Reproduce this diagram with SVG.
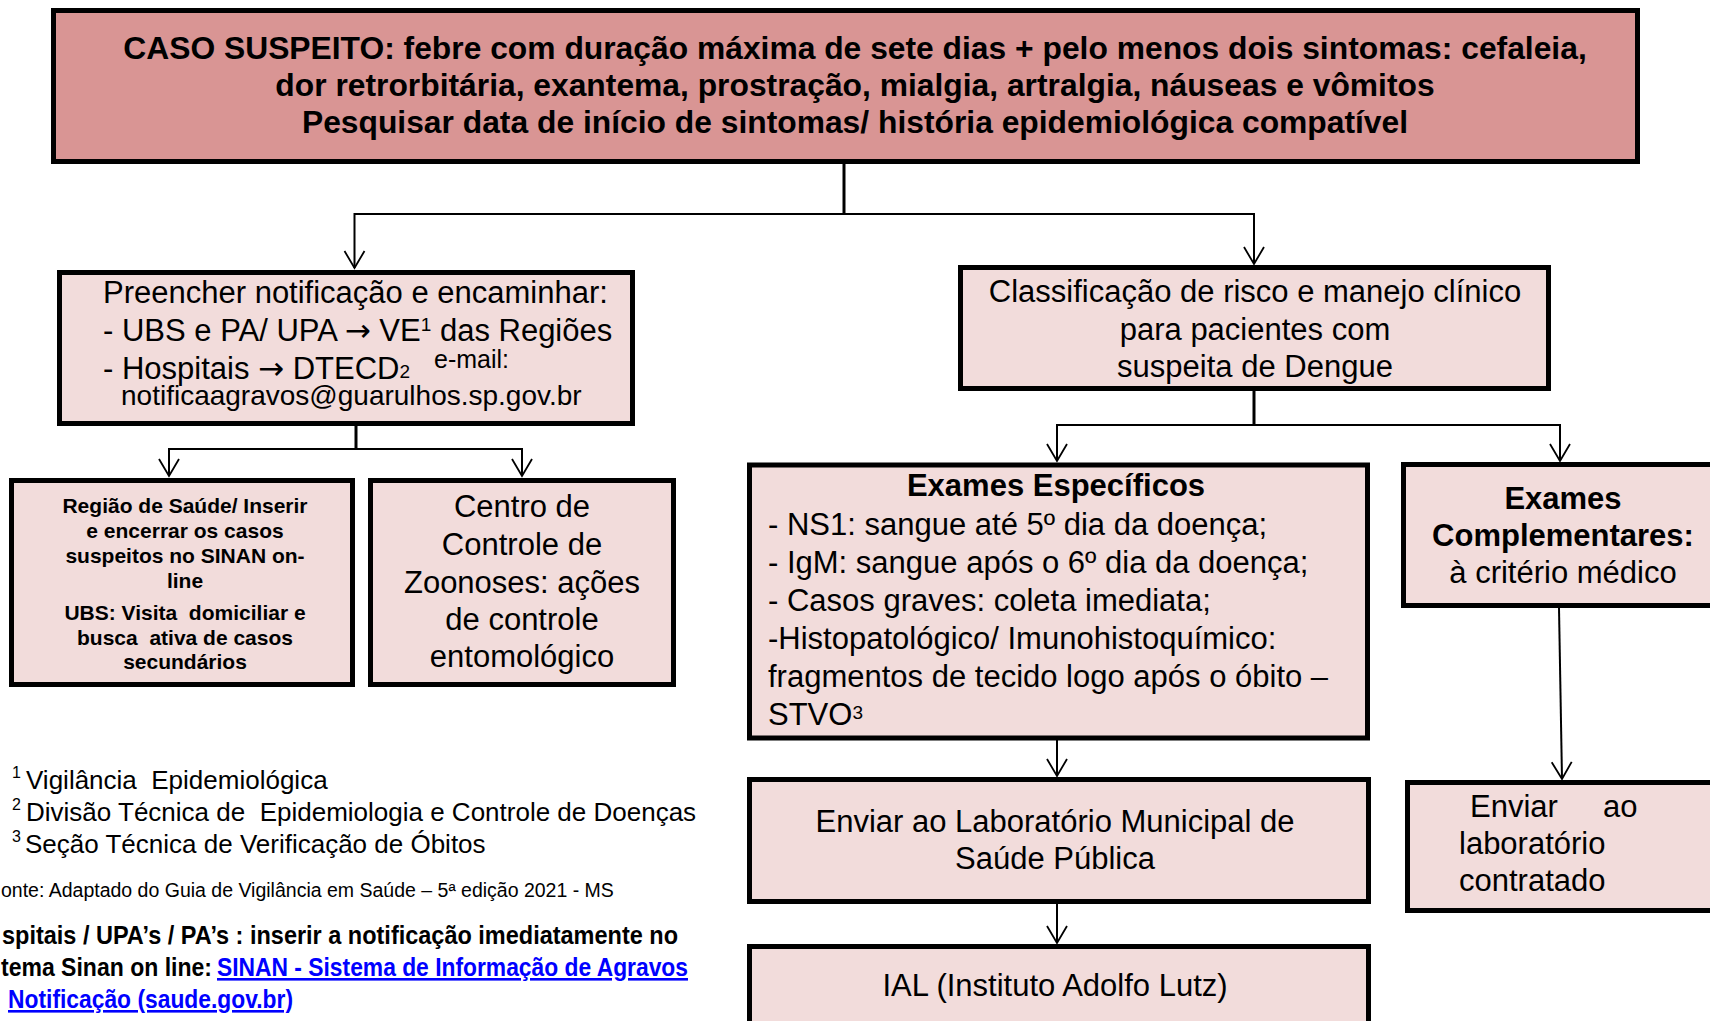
<svg xmlns="http://www.w3.org/2000/svg" width="1710" height="1021" viewBox="0 0 1710 1021">
<style>
text{font-family:"Liberation Sans",Arial,sans-serif;fill:#000}
.b{font-weight:bold}
.m{text-anchor:middle}
.pre{white-space:pre}
.ar{font-family:"DejaVu Sans","Liberation Sans",sans-serif}
.box{fill:#F2DCDB;stroke:#000;stroke-width:5}
.top{fill:#D99594;stroke:#000;stroke-width:5}
.c{fill:none;stroke:#000;stroke-width:2}
.t{fill:none;stroke:#000;stroke-width:3}
.f31{font-size:31px}
.cal{font-family:"Liberation Sans",Arial,sans-serif;font-weight:bold;font-size:26px}
.lnk{fill:#0000FF;text-decoration:underline}
</style>
<defs>
<marker id="arr" markerUnits="userSpaceOnUse" markerWidth="24" markerHeight="24" viewBox="-20 -12 24 24" refX="0" refY="0" orient="auto">
<path d="M-17,-10 L0,0 L-17,10" fill="none" stroke="#000" stroke-width="1.8"/>
</marker>
</defs>
<rect width="1710" height="1021" fill="#fff"/>

<g id="connectors">
<path class="t" d="M844,163 V214"/>
<path class="c" d="M844,214 H354.5 V268" marker-end="url(#arr)"/>
<path class="c" d="M844,214 H1254 V264" marker-end="url(#arr)"/>
<path class="t" d="M356,426 V449"/>
<path class="c" d="M356,449 H169 V476" marker-end="url(#arr)"/>
<path class="c" d="M356,449 H522 V476" marker-end="url(#arr)"/>
<path class="t" d="M1254,391 V425"/>
<path class="c" d="M1254,425 H1057 V461" marker-end="url(#arr)"/>
<path class="c" d="M1254,425 H1560 V461" marker-end="url(#arr)"/>
<path class="c" d="M1057,740 V776" marker-end="url(#arr)"/>
<path class="c" d="M1057,904 V943" marker-end="url(#arr)"/>
<path class="c" d="M1559,608 L1562,779" marker-end="url(#arr)"/>
</g>

<g id="caso-suspeito">
<rect class="top" x="53.5" y="10.5" width="1584" height="151"/>
<text class="b m" x="855" y="59" font-size="31.8">CASO SUSPEITO: febre com duração máxima de sete dias + pelo menos dois sintomas: cefaleia,</text>
<text class="b m" x="855" y="96" font-size="31.8">dor retrorbitária, exantema, prostração, mialgia, artralgia, náuseas e vômitos</text>
<text class="b m" x="855" y="133" font-size="31.8">Pesquisar data de início de sintomas/ história epidemiológica compatível</text>
</g>

<g id="preencher">
<rect class="box" x="59.5" y="272.5" width="573" height="151"/>
<text class="f31" x="103" y="303">Preencher notificação e encaminhar:</text>
<text class="f31" x="103" y="341">- UBS e PA/ UPA <tspan class="ar">→</tspan> VE<tspan font-size="19" dy="-10">1</tspan><tspan dy="10"> das Regiões</tspan></text>
<text class="f31" x="103" y="379">- Hospitais <tspan class="ar">→</tspan> DTECD<tspan font-size="19" dy="-1">2</tspan></text>
<text x="434" y="368" font-size="25">e-mail:</text>
<text x="121" y="405" font-size="28">notificaagravos@guarulhos.sp.gov.br</text>
</g>

<g id="regiao-saude">
<rect class="box" x="11.5" y="480.5" width="341" height="204"/>
<text class="b m" x="185" y="513" font-size="21">Região de Saúde/ Inserir</text>
<text class="b m" x="185" y="538" font-size="21">e encerrar os casos</text>
<text class="b m" x="185" y="563" font-size="21">suspeitos no SINAN on-</text>
<text class="b m" x="185" y="588" font-size="21">line</text>
<text class="b m pre" x="185" y="620" font-size="21">UBS: Visita  domiciliar e</text>
<text class="b m pre" x="185" y="645" font-size="21">busca  ativa de casos</text>
<text class="b m" x="185" y="669" font-size="21">secundários</text>
</g>

<g id="centro-zoonoses">
<rect class="box" x="370.5" y="480.5" width="303" height="204"/>
<text class="f31 m" x="522" y="517">Centro de</text>
<text class="f31 m" x="522" y="555">Controle de</text>
<text class="f31 m" x="522" y="593">Zoonoses: ações</text>
<text class="f31 m" x="522" y="630">de controle</text>
<text class="f31 m" x="522" y="667">entomológico</text>
</g>

<g id="classificacao">
<rect class="box" x="960.5" y="267.5" width="588" height="121"/>
<text class="f31 m" x="1255" y="302">Classificação de risco e manejo clínico</text>
<text class="f31 m" x="1255" y="340">para pacientes com</text>
<text class="f31 m" x="1255" y="377">suspeita de Dengue</text>
</g>

<g id="exames-especificos">
<rect class="box" x="749.5" y="465" width="618" height="273"/>
<text class="b m f31" x="1056" y="496">Exames Específicos</text>
<text class="f31" x="768" y="535">- NS1: sangue até 5º dia da doença;</text>
<text class="f31" x="768" y="573">- IgM: sangue após o 6º dia da doença;</text>
<text class="f31" x="768" y="611">- Casos graves: coleta imediata;</text>
<text class="f31" x="768" y="649">-Histopatológico/ Imunohistoquímico:</text>
<text class="f31" x="768" y="687">fragmentos de tecido logo após o óbito –</text>
<text class="f31" x="768" y="725">STVO<tspan font-size="19" dy="-6">3</tspan></text>
</g>

<g id="exames-complementares">
<rect class="box" x="1403.5" y="464.5" width="400" height="141"/>
<text class="b m f31" x="1563" y="509">Exames</text>
<text class="b m f31" x="1563" y="546">Complementares:</text>
<text class="f31 m" x="1563" y="583">à critério médico</text>
</g>

<g id="laboratorio-municipal">
<rect class="box" x="749.5" y="779.5" width="619" height="122"/>
<text class="f31 m" x="1055" y="832">Enviar ao Laboratório Municipal de</text>
<text class="f31 m" x="1055" y="869">Saúde Pública</text>
</g>

<g id="ial">
<rect class="box" x="749.5" y="946.5" width="619" height="100"/>
<text class="f31 m" x="1055" y="996">IAL (Instituto Adolfo Lutz)</text>
</g>

<g id="laboratorio-contratado">
<rect class="box" x="1407.5" y="782.5" width="400" height="128"/>
<text class="f31" x="1470" y="817">Enviar</text>
<text class="f31" x="1603" y="817">ao</text>
<text class="f31" x="1459" y="854">laboratório</text>
<text class="f31" x="1459" y="891">contratado</text>
</g>

<g id="notas">
<text x="12" y="778" font-size="16">1</text>
<text class="pre" x="26" y="789" font-size="26">Vigilância  Epidemiológica</text>
<text x="12" y="810" font-size="16">2</text>
<text class="pre" x="26" y="821" font-size="26">Divisão Técnica de  Epidemiologia e Controle de Doenças</text>
<text x="12" y="842" font-size="16">3</text>
<text x="25" y="853" font-size="26">Seção Técnica de Verificação de Óbitos</text>
<text x="1" y="897" font-size="19.5">onte: Adaptado do Guia de Vigilância em Saúde – 5ª edição 2021 - MS</text>
<text class="cal" x="2" y="944" textLength="676" lengthAdjust="spacingAndGlyphs">spitais / UPA’s / PA’s : inserir a notificação imediatamente no</text>
<text class="cal" x="1" y="976" textLength="211" lengthAdjust="spacingAndGlyphs">tema Sinan on line:</text>
<text class="cal lnk" x="217" y="976" textLength="471" lengthAdjust="spacingAndGlyphs">SINAN - Sistema de Informação de Agravos</text>
<text class="cal lnk" x="8" y="1008" textLength="285" lengthAdjust="spacingAndGlyphs">Notificação (saude.gov.br)</text>
</g>
</svg>
